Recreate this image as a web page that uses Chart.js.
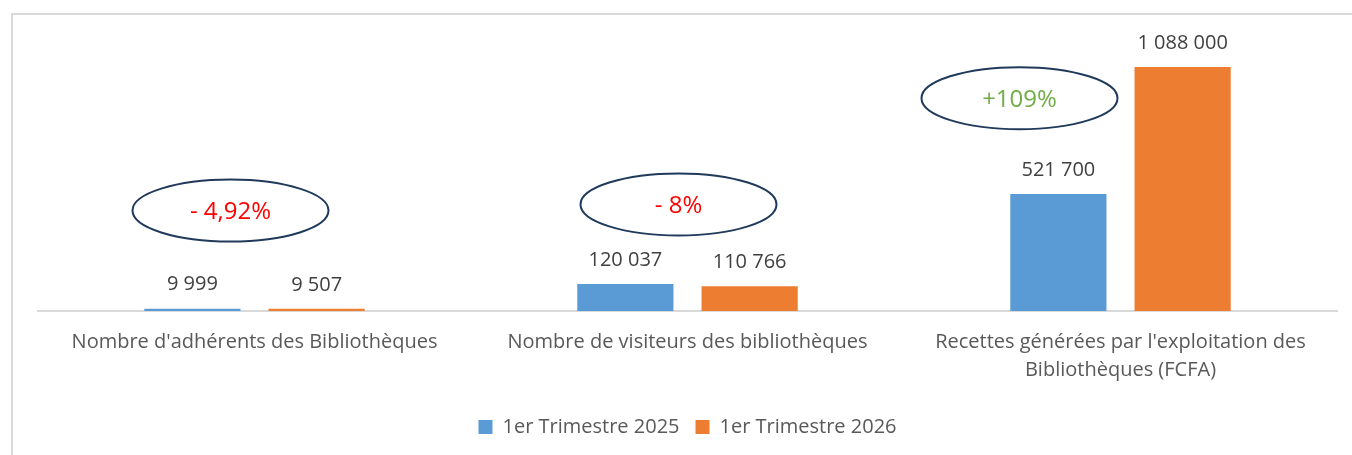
<!DOCTYPE html>
<html>
<head>
<meta charset="utf-8">
<script src="https://cdn.jsdelivr.net/npm/chart.js@4.4.0/dist/chart.umd.min.js"></script>
<style>
    html, body { margin: 0; padding: 0; background: #fff; overflow: hidden; }
    #frame { position: absolute; left: 11px; top: 13px; width: 1400px; height: 500px;
             border-left: 2px solid #d9d9d9; border-top: 2px solid #d9d9d9; }
    #wrap { position: absolute; left: 0; top: 0; width: 1352px; height: 455px; }
</style>
</head>
<body>
<div id="frame"></div>
<div id="wrap"><canvas id="myChart"></canvas></div>
<script>
var categories = [
    "Nombre d'adhérents des Bibliothèques",
    "Nombre de visiteurs des bibliothèques",
    ["Recettes générées par l'exploitation des", "Bibliothèques (FCFA)"]
];
var seriesNames = ["1er Trimestre 2025", "1er Trimestre 2026"];
var values2025 = [9999, 120037, 521700];
var values2026 = [9507, 110766, 1088000];
var changeLabels = ["- 4,92%", "- 8%", "+109%"];
var changeColors = ["#ff0000", "#ff0000", "#70ad47"];

// where each ellipse sits: value height and shift from the category centre
var changeY = [448000, 475000, 949000];
var changeDx = [-24, -9, -101];

var fontName = 'Open Sans';

function formatNumber(n) {
    return String(n).replace(/\B(?=(\d{3})+(?!\d))/g, " ");
}

const valueLabels = {
    id: 'valueLabels',
    afterDatasetsDraw(chart) {
        const ctx = chart.ctx;
        ctx.save();
        ctx.font = '20px ' + fontName;
        ctx.fillStyle = '#404040';
        ctx.textAlign = 'center';
        ctx.textBaseline = 'middle';
        chart.data.datasets.forEach(function (ds, i) {
            chart.getDatasetMeta(i).data.forEach(function (bar, j) {
                ctx.fillText(formatNumber(ds.data[j]), bar.x, bar.y - 24);
            });
        });
        ctx.restore();
    }
};

const ellipses = {
    id: 'ellipses',
    afterDatasetsDraw(chart) {
        const ctx = chart.ctx;
        const xs = chart.scales.x;
        const ys = chart.scales.y;
        ctx.save();
        for (let i = 0; i < changeLabels.length; i++) {
            const cx = xs.getPixelForValue(i) + changeDx[i];
            const cy = ys.getPixelForValue(changeY[i]);
            ctx.beginPath();
            ctx.ellipse(cx, cy, 98, 31, 0, 0, Math.PI * 2);
            ctx.lineWidth = 2;
            ctx.strokeStyle = '#1f3a5a';
            ctx.stroke();
            ctx.font = '24px ' + fontName;
            ctx.fillStyle = changeColors[i];
            ctx.textAlign = 'center';
            ctx.textBaseline = 'middle';
            ctx.fillText(changeLabels[i], cx, cy + 2);
        }
        ctx.restore();
    }
};

new Chart("myChart", {
    type: "bar",
    data: {
        labels: categories,
        datasets: [{
            label: seriesNames[0],
            data: values2025,
            backgroundColor: "#5b9bd5",
            categoryPercentage: 0.574,
            barPercentage: 0.774
        }, {
            label: seriesNames[1],
            data: values2026,
            backgroundColor: "#ed7d31",
            categoryPercentage: 0.574,
            barPercentage: 0.774
        }]
    },
    options: {
        responsive: true,
        maintainAspectRatio: false,
        animation: false,
        layout: { padding: { left: 38, right: 15, top: 67, bottom: 8 } },
        scales: {
            x: {
                grid: { display: false, drawTicks: false },
                border: { color: '#d9d9d9', width: 2 },
                ticks: { color: '#595959', font: { family: fontName, size: 20, lineHeight: 1.4 }, padding: 17, maxRotation: 0, autoSkip: false }
            },
            y: {
                display: false,
                min: 0,
                max: 1088000
            }
        },
        plugins: {
            legend: {
                position: 'bottom',
                labels: {
                    color: '#595959',
                    font: { family: fontName, size: 20 },
                    boxWidth: 14,
                    boxHeight: 14,
                    padding: 16
                }
            },
            tooltip: { enabled: false }
        }
    },
    plugins: [valueLabels, ellipses]
});
</script>
</body>
</html>
